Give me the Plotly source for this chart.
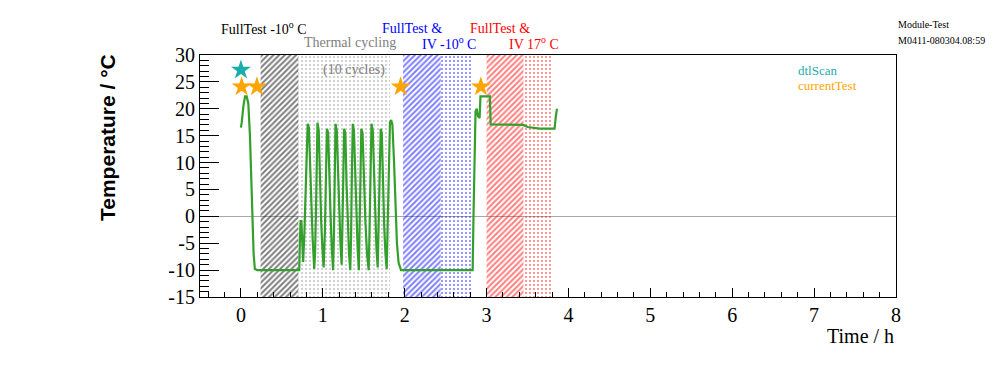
import plotly.graph_objects as go

# ---------------- data ----------------
time_h = [0.000, 0.010, 0.030, 0.050, 0.070, 0.090, 0.110, 0.125, 0.140, 0.155, 0.170, 0.200,
          0.400, 0.600, 0.712, 0.720, 0.728, 0.738, 0.745, 0.760, 0.775, 0.790, 0.805, 0.815,
          0.830, 0.845, 0.860, 0.875, 0.895, 0.905, 0.915, 0.925, 0.935, 0.950, 0.965, 0.980,
          0.995, 1.010, 1.025, 1.040, 1.050, 1.065, 1.080, 1.095, 1.110, 1.125, 1.135, 1.145,
          1.155, 1.170, 1.185, 1.200, 1.215, 1.230, 1.240, 1.250, 1.260, 1.275, 1.290, 1.305,
          1.320, 1.335, 1.345, 1.355, 1.366, 1.380, 1.395, 1.410, 1.425, 1.440, 1.450, 1.460,
          1.470, 1.485, 1.500, 1.520, 1.540, 1.560, 1.570, 1.582, 1.594, 1.610, 1.625, 1.640,
          1.655, 1.670, 1.680, 1.692, 1.707, 1.720, 1.735, 1.750, 1.765, 1.780, 1.790, 1.805,
          1.820, 1.835, 1.850, 1.870, 1.890, 1.905, 1.925, 1.955, 2.400, 2.830, 2.840, 2.855,
          2.865, 2.880, 2.895, 2.915, 2.925, 3.040, 3.050, 3.450, 3.500, 3.650, 3.830, 3.845,
          3.860]
temperature = [16.5, 17.5, 20.5, 22.3, 22.3, 21.0, 15.0, 7.0, 0.0, -7.0, -9.8, -10.0,
               -10.0, -10.0, -10.0, -4.6, -0.9, -0.9, -5.0, -8.5, -3.0, 5.0, 12.0, 17.2,
               16.5, 8.0, 2.0, -4.0, -9.8, -7.0, 0.0, 10.0, 17.4, 16.0, 6.0, -1.0,
               -6.0, -9.5, -3.0, 8.0, 16.3, 15.5, 6.0, 0.0, -6.0, -10.0, -4.0, 8.0,
               17.2, 16.0, 8.0, 1.0, -5.0, -9.0, -3.0, 7.0, 16.3, 15.5, 6.0, -1.0,
               -7.0, -10.0, -4.0, 8.0, 17.2, 16.0, 7.0, 0.0, -6.0, -10.0, -3.0, 7.0,
               16.3, 15.5, 6.0, -1.0, -7.0, -10.0, -3.0, 8.0, 17.2, 16.0, 7.0, 0.0,
               -6.0, -9.5, -3.0, 8.0, 16.3, 15.5, 6.0, -2.0, -7.0, -9.8, -3.0, 9.0,
               17.5, 17.9, 17.0, 10.0, 2.0, -5.0, -8.6, -10.0, -10.0, -10.0, 0.0, 12.0,
               19.5, 20.0, 18.6, 18.3, 22.3, 22.3, 17.1, 17.0, 16.6, 16.3, 16.3, 18.5,
               20.0]

dtl_time = [0.0]
dtl_value = [27.2]
current_time = [0.008, 0.195, 1.95, 2.93]
current_value = [24.1, 24.1, 24.1, 24.1]

# shaded test periods: (start, end, colour, pattern)
band_start = [0.24, 0.70, 1.98, 2.44, 3.00, 3.45]
band_end = [0.70, 1.82, 2.44, 2.82, 3.45, 3.81]
band_color = ["#000000", "#8c8c8c", "#0000ff", "#0000ff", "#ff0000", "#ff0000"]
band_shape = ["/", ".", "/", ".", "/", "."]

x_ticks = [0, 1, 2, 3, 4, 5, 6, 7, 8]
x_labels = ["0", "1", "2", "3", "4", "5", "6", "7", "8"]
y_ticks = [-15, -10, -5, 0, 5, 10, 15, 20, 25, 30]
y_labels = ["-15", "-10", "-5", "0", "5", "10", "15", "20", "25", "30"]

Y_MIN, Y_MAX = -15, 30
X_MIN, X_MAX = -0.5, 8

SERIF = "Liberation Serif, Times New Roman, serif"
SANS = "Liberation Sans, Arial, sans-serif"

fig = go.Figure()

for s, e, c, p in zip(band_start, band_end, band_color, band_shape):
    fig.add_trace(go.Scatter(
        x=[s, e, e, s, s], y=[Y_MIN, Y_MIN, Y_MAX, Y_MAX, Y_MIN],
        mode="lines", line=dict(width=0), fill="toself",
        fillcolor="rgba(0,0,0,0)",
        fillpattern=dict(shape=p, fgcolor=c, bgcolor="rgba(255,255,255,0)",
                         size=4,
                         solidity=0.5 if p == "/" else 0.22),
        hoverinfo="skip", showlegend=False))

fig.add_trace(go.Scatter(x=time_h, y=temperature, mode="lines",
                         line=dict(color="#33a02c", width=2.2), showlegend=False))

fig.add_trace(go.Scatter(x=dtl_time, y=dtl_value, mode="markers",
                         marker=dict(symbol="star", size=15, color="#1aadad"),
                         showlegend=False))
fig.add_trace(go.Scatter(x=current_time, y=current_value, mode="markers",
                         marker=dict(symbol="star", size=15, color="#ffa500"),
                         showlegend=False))

# page body has an 8px default margin, so the figure is shrunk by 8px
fig.update_layout(
    width=988, height=364,
    margin=dict(l=192, r=100, t=47, b=75),
    plot_bgcolor="white", paper_bgcolor="white",
    showlegend=False,
)

fig.update_xaxes(
    range=[X_MIN, X_MAX], tickvals=x_ticks, ticktext=x_labels,
    ticks="inside", ticklen=9, tickcolor="black", tickwidth=1,
    minor=dict(dtick=0.2, ticks="inside", ticklen=5, tickcolor="black", tickwidth=1),
    showline=True, linecolor="black", linewidth=1, mirror=True,
    showgrid=False, zeroline=False,
    tickfont=dict(family=SERIF, size=20, color="black"),
)
fig.update_yaxes(
    range=[Y_MIN, Y_MAX], tickvals=y_ticks, ticktext=y_labels,
    ticks="inside", ticklen=19, tickcolor="black", tickwidth=1,
    minor=dict(dtick=1, ticks="inside", ticklen=9, tickcolor="black", tickwidth=1),
    showline=True, linecolor="black", linewidth=1, mirror=True,
    showgrid=False, zeroline=True, zerolinecolor="#a8a8a8", zerolinewidth=1,
    tickfont=dict(family=SERIF, size=20, color="black"),
)

def px2paper(px, py):
    return (px - 200) / 696.0, (297 - py) / 242.0

def add_text(text, px, py, color, size, family=SERIF, xanchor="left", **kw):
    x, y = px2paper(px, py)
    fig.add_annotation(text=text, x=x, y=y, xref="paper", yref="paper",
                       xanchor=xanchor, yanchor="middle", showarrow=False,
                       font=dict(family=family, size=size, color=color), **kw)

add_text("FullTest -10<sup>o</sup> C", 219, 28, "black", 14)
add_text("Thermal cycling", 302, 43, "#808080", 14)
add_text("(10 cycles)", 321, 70, "#808080", 14)
add_text("FullTest &amp;", 380, 28, "#0000ff", 14)
add_text("IV -10<sup>o</sup> C", 420, 43, "#0000ff", 14)
add_text("FullTest &amp;", 468, 28, "#ff0000", 14)
add_text("IV 17<sup>o</sup> C", 507, 43, "#ff0000", 14)
add_text("Module-Test", 896, 25, "black", 10)
add_text("M0411-080304.08:59", 896, 41, "black", 10)
add_text("dtlScan", 796, 70, "#1aadad", 13)
add_text("currentTest", 796, 85, "#ffa500", 13)
add_text("Time / h", 896, 336, "black", 20, xanchor="right")
add_text("<b>Temperature / °C</b>", 107, 138, "black", 21, family=SANS,
         xanchor="center", textangle=-90)

fig.write_html("out.html")
